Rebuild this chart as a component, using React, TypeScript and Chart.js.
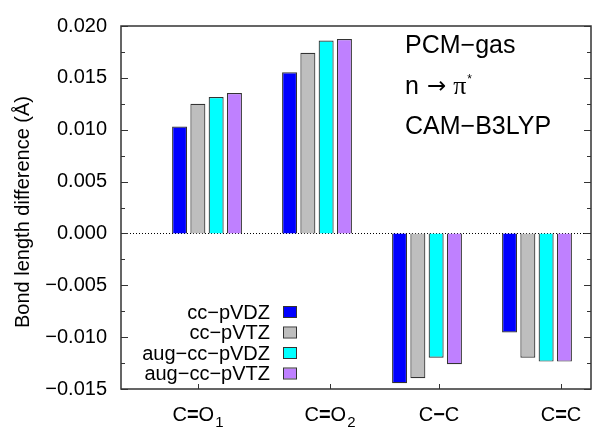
import React, { useEffect, useRef } from "react";
import { Chart, registerables } from "chart.js";

Chart.register(...registerables);

// ---- data ----
const categories = ["C=O\u2081", "C=O\u2082", "C\u2212C", "C=C"];
const groupPositions = [1, 2, 3, 4];
const labelPositions = [0.918, 2.118, 3.109, 4.218];
const seriesNames = ["cc\u2212pVDZ", "cc\u2212pVTZ", "aug\u2212cc\u2212pVDZ", "aug\u2212cc\u2212pVTZ"];
const ccPVDZ = [0.0103, 0.01553, -0.01445, -0.00955];
const ccPVTZ = [0.0125, 0.01742, -0.01397, -0.01198];
const augCcPVDZ = [0.01316, 0.01859, -0.01198, -0.01236];
const augCcPVTZ = [0.01353, 0.01875, -0.01262, -0.01236];
const seriesColors = ["#0000ff", "#bebebe", "#00ffff", "#bf80ff"];
const yTickValues = [-0.015, -0.01, -0.005, 0, 0.005, 0.01, 0.015, 0.02];
const annotationLines = ["PCM\u2212gas", "n \u2192 \u03c0*", "CAM\u2212B3LYP"];
const yTitle = "Bond length difference (\u00c5)";

const FONT = '"Liberation Sans", Arial, Helvetica, sans-serif';
const SUBS: Record<string, string> = { "\u2081": "1", "\u2082": "2" };

function drawCategoryLabel(ctx: CanvasRenderingContext2D, label: string, cx: number, baseline: number) {
  const runs: { t: string; font: string; dy: number }[] = [];
  for (const ch of label) {
    if (SUBS[ch]) runs.push({ t: SUBS[ch], font: "15px " + FONT, dy: 6 });
    else if (ch === "=" || ch === "\u2212") runs.push({ t: ch, font: "bold 20px " + FONT, dy: 0 });
    else runs.push({ t: ch, font: "20px " + FONT, dy: 0 });
  }
  let total = 0;
  const widths = runs.map((r) => {
    ctx.font = r.font;
    const w = ctx.measureText(r.t).width + (r.dy ? 1 : 0);
    total += w;
    return w;
  });
  let x = cx - total / 2;
  runs.forEach((r, i) => {
    ctx.font = r.font;
    ctx.fillText(r.t, x + (r.dy ? 1 : 0), baseline + r.dy);
    x += widths[i];
  });
}

const decor = {
  id: "decor",
  beforeDatasetsDraw(chart: any) {
    const { ctx, chartArea } = chart;
    const y0 = chart.scales.y.getPixelForValue(0);
    ctx.save();
    ctx.strokeStyle = "#000";
    ctx.lineWidth = 1;
    ctx.setLineDash([1, 2]);
    ctx.beginPath();
    ctx.moveTo(chartArea.left, Math.round(y0) + 0.5);
    ctx.lineTo(chartArea.right, Math.round(y0) + 0.5);
    ctx.stroke();
    ctx.restore();
  },
  afterDatasetsDraw(chart: any) {
    const { ctx, chartArea } = chart;
    const { left, right, top, bottom } = chartArea;
    const ys = chart.scales.y;
    const xl = chart.scales.xl;
    ctx.save();
    // frame
    ctx.strokeStyle = "#333";
    ctx.lineWidth = 1.5;
    ctx.strokeRect(left, top, right - left, bottom - top);
    // y ticks (inward, mirrored)
    ctx.lineWidth = 1;
    const tv = ys.ticks.map((t: any) => t.value);
    const drawY = (v: number, len: number) => {
      const p = Math.round(ys.getPixelForValue(v)) + 0.5;
      ctx.beginPath();
      ctx.moveTo(left, p);
      ctx.lineTo(left + len, p);
      ctx.moveTo(right, p);
      ctx.lineTo(right - len, p);
      ctx.stroke();
    };
    for (let i = 0; i < tv.length; i++) {
      drawY(tv[i], 7);
      if (i < tv.length - 1) drawY((tv[i] + tv[i + 1]) / 2, 4);
    }
    // x ticks + category labels
    ctx.fillStyle = "#000";
    ctx.textAlign = "left";
    ctx.textBaseline = "alphabetic";
    xl.ticks.forEach((t: any, i: number) => {
      const p = Math.round(xl.getPixelForValue(t.value)) + 0.5;
      ctx.beginPath();
      ctx.moveTo(p, bottom);
      ctx.lineTo(p, bottom - 5);
      ctx.stroke();
      drawCategoryLabel(ctx, categories[i], xl.getPixelForValue(t.value), bottom + 32);
    });
    // legend
    ctx.font = "20px " + FONT;
    ctx.textAlign = "right";
    ctx.textBaseline = "middle";
    chart.data.datasets.forEach((ds: any, i: number) => {
      const cy = bottom - 77 + i * 20.5;
      ctx.fillStyle = "#000";
      ctx.fillText(ds.label, left + 149, cy + 1);
      ctx.fillStyle = ds.backgroundColor;
      ctx.fillRect(left + 162, cy - 5, 13, 10);
      ctx.strokeStyle = "#333";
      ctx.lineWidth = 1;
      ctx.strokeRect(left + 162.5, cy - 5.5, 13, 11);
    });
    // annotation
    ctx.textAlign = "left";
    ctx.textBaseline = "alphabetic";
    ctx.fillStyle = "#000";
    const ax = left + 284;
    const baselines = [top + 27, top + 68, top + 108];
    annotationLines.forEach((s, i) => {
      ctx.font = "25px " + FONT;
      if (i !== 1) {
        ctx.fillText(s, ax, baselines[i]);
        return;
      }
      const parts = s.split(" ");
      let x = ax;
      ctx.font = "25px " + FONT;
      ctx.fillText(parts[0], x, baselines[i]);
      x += ctx.measureText(parts[0]).width + 8;
      ctx.font = '23px "DejaVu Sans", sans-serif';
      ctx.fillText(parts[1], x, baselines[i] - 1);
      x += ctx.measureText(parts[1]).width + 7;
      const pi = parts[2].replace("*", "");
      ctx.font = '26px "Liberation Serif", serif';
      ctx.fillText(pi, x, baselines[i]);
      x += ctx.measureText(pi).width + 1;
      ctx.font = "12px " + FONT;
      ctx.fillText("*", x, baselines[i] - 11);
    });
    // y title
    ctx.font = "20px " + FONT;
    ctx.translate(23, 212);
    ctx.rotate(-Math.PI / 2);
    ctx.textAlign = "center";
    ctx.textBaseline = "middle";
    ctx.fillText(yTitle, 0, 0);
    ctx.restore();
  },
};

export default function App() {
  const ref = useRef<HTMLCanvasElement | null>(null);
  useEffect(() => {
    document.body.style.margin = "0";
    const series = [ccPVDZ, ccPVTZ, augCcPVDZ, augCcPVTZ];
    const xMin = 0.218;
    const xMax = 4.491;
    const chart = new Chart(ref.current as HTMLCanvasElement, {
      type: "bar",
      data: {
        datasets: series.map((vals, i) => ({
          label: seriesNames[i],
          data: vals.map((v, j) => ({ x: groupPositions[j], y: v })),
          backgroundColor: seriesColors[i],
          borderColor: "#333",
          borderWidth: 1.2,
          categoryPercentage: 0.665,
          barPercentage: 0.82,
          xAxisID: "x",
          yAxisID: "y",
        })),
      },
      options: {
        animation: false,
        responsive: false,
        events: [],
        layout: { padding: { left: 0, right: 2, top: 20, bottom: 0 } },
        plugins: { legend: { display: false }, tooltip: { enabled: false } },
        scales: {
          x: {
            type: "linear",
            display: false,
            offset: false,
            bounds: "data",
            min: xMin,
            max: xMax,
            grid: { offset: false },
            afterBuildTicks: (s: any) => {
              s.ticks = groupPositions.map((v) => ({ value: v }));
            },
          },
          xl: {
            type: "linear",
            position: "bottom",
            offset: false,
            bounds: "data",
            min: xMin,
            max: xMax,
            afterBuildTicks: (s: any) => {
              s.ticks = labelPositions.map((v) => ({ value: v }));
            },
            afterFit: (s: any) => {
              s.height = 38;
            },
            grid: { display: false, drawTicks: false, offset: false },
            border: { display: false },
            ticks: {
              display: false,
              autoSkip: false,
              maxRotation: 0,
              callback: (_v: any, i: number) => categories[i],
            },
          },
          y: {
            type: "linear",
            min: -0.015,
            max: 0.02,
            afterBuildTicks: (s: any) => {
              s.ticks = yTickValues.map((v) => ({ value: v }));
            },
            afterFit: (s: any) => {
              s.width = 121;
            },
            grid: { display: false, drawTicks: false },
            border: { display: false },
            ticks: {
              padding: 14,
              color: "#000",
              font: { family: FONT, size: 20 },
              callback: (v: any) => {
                const n = Number(v);
                const s = Math.abs(n).toFixed(3);
                return n < -1e-9 ? "\u2212" + s : s;
              },
            },
          },
        },
      },
      plugins: [decor],
    } as any);
    return () => chart.destroy();
  }, []);
  return (
    <div style={{ width: 593, height: 427 }}>
      <canvas ref={ref} width={593} height={427} />
    </div>
  );
}
